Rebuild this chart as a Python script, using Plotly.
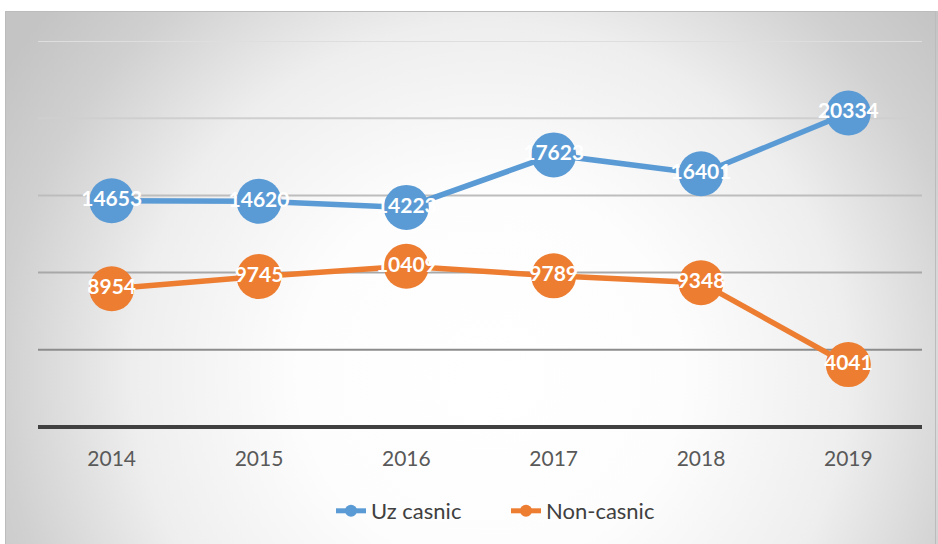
import base64
import plotly.graph_objects as go

# Chart data
years = ["2014", "2015", "2016", "2017", "2018", "2019"]
uz_casnic = [14653, 14620, 14223, 17623, 16401, 20334]
non_casnic = [8954, 9745, 10409, 9789, 9348, 4041]

grid_values = [5000, 10000, 15000, 20000, 25000]
grid_colors = ["#8c8c8c", "#a8a8a8", "#bdbdbd", "#cfcfcf", "#dedede"]

BLUE = "#5b9bd5"
ORANGE = "#ed7d31"

# Plot-area geometry in pixels
W, H = 938, 544
ML, MR, MT, MB = 38, 16, 41, 117
PW, PH = W - ML - MR, H - MT - MB


def px_to_paper_x(px):
    return (px - ML) / PW


def px_to_paper_y(py):
    return (H - MB - py) / PH


# Radial-gradient chart background as an SVG image (circular in pixel space)
svg = f"""<svg xmlns='http://www.w3.org/2000/svg' width='{W}' height='{H}' preserveAspectRatio='none' viewBox='0 0 {W} {H}'>
<defs><radialGradient id='g' gradientUnits='userSpaceOnUse' cx='488' cy='372' r='580' fx='488' fy='372'>
<stop offset='0' stop-color='#ffffff'/>
<stop offset='0.33' stop-color='#fdfdfd'/>
<stop offset='0.62' stop-color='#eeeeee'/>
<stop offset='0.85' stop-color='#d0d0d0'/>
<stop offset='1' stop-color='#c4c4c4'/>
</radialGradient></defs>
<rect x='0' y='0' width='{W}' height='{H}' fill='url(#g)'/>
</svg>"""
bg_uri = "data:image/svg+xml;base64," + base64.b64encode(svg.encode()).decode()

fig = go.Figure()

for name, vals, col in [("Uz casnic", uz_casnic, BLUE), ("Non-casnic", non_casnic, ORANGE)]:
    fig.add_trace(go.Scatter(
        x=years, y=vals, name=name,
        mode="lines+markers+text",
        line=dict(color=col, width=5.5),
        marker=dict(color=col, size=45),
        text=[str(v) for v in vals],
        textposition="middle center",
        textfont=dict(family="Lato, sans-serif", size=21, color="white", weight="bold"),
        cliponaxis=False,
    ))

shapes = []
# Horizontal gridlines, darker toward the baseline
for v, c in zip(grid_values, grid_colors):
    shapes.append(dict(type="line", xref="paper", yref="y", x0=0, x1=1, y0=v, y1=v,
                       line=dict(color=c, width=2), layer="below"))
# Baseline
shapes.append(dict(type="line", xref="paper", yref="paper", x0=0, x1=1, y0=0, y1=0,
                   line=dict(color="#404040", width=4), layer="above"))
# Chart frame
shapes.append(dict(type="rect", xref="paper", yref="paper",
                   x0=px_to_paper_x(5.5), x1=px_to_paper_x(935.5),
                   y0=px_to_paper_y(560), y1=px_to_paper_y(11.5),
                   line=dict(color="#bcbcbc", width=1), layer="below"))

fig.update_layout(
    width=W, height=H,
    margin=dict(l=ML, r=MR, t=MT, b=MB),
    paper_bgcolor="white",
    plot_bgcolor="rgba(0,0,0,0)",
    showlegend=True,
    legend=dict(orientation="h", x=px_to_paper_x(331), xanchor="left",
                y=px_to_paper_y(511), yanchor="middle",
                font=dict(family="Lato, sans-serif", size=22, color="#404040"),
                bgcolor="rgba(0,0,0,0)", itemsizing="constant",
                entrywidth=130, entrywidthmode="pixels"),
    xaxis=dict(type="category", range=[-0.5, 5.5], showgrid=False, zeroline=False,
               showline=False, ticks="",
               tickfont=dict(family="Lato, sans-serif", size=21, color="#595959"),
               ticklabelstandoff=17),
    yaxis=dict(range=[0, 25000], showgrid=False, zeroline=False, showticklabels=False,
               showline=False, ticks=""),
    shapes=shapes,
    images=[dict(source=bg_uri, xref="paper", yref="paper",
                 x=px_to_paper_x(5), y=px_to_paper_y(11),
                 sizex=(W - 5) / PW, sizey=(H - 11) / PH,
                 xanchor="left", yanchor="top", sizing="stretch", layer="below")],
)

fig.write_html("out.html")
